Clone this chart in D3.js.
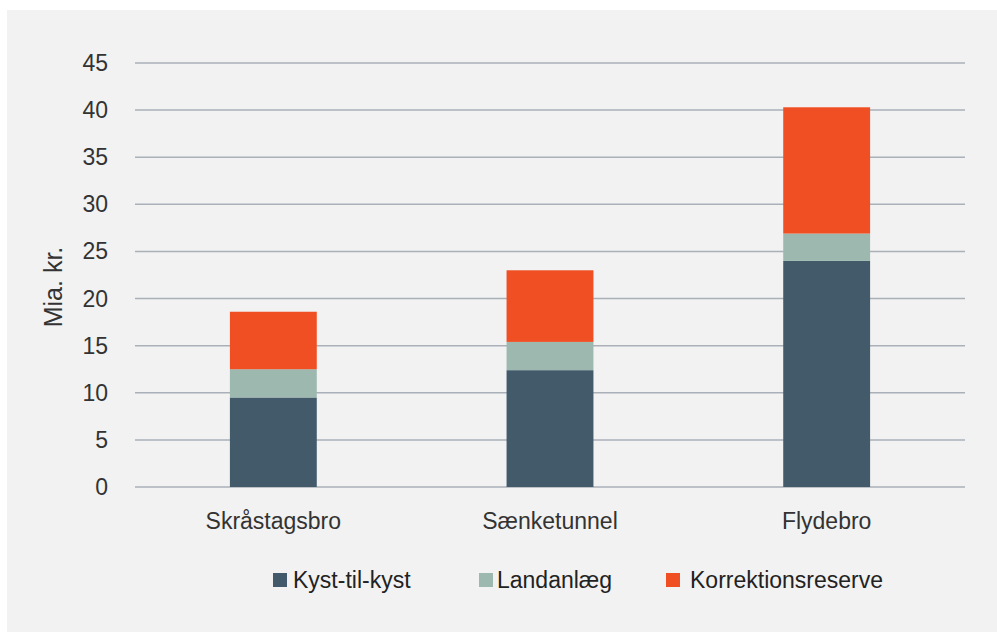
<!DOCTYPE html>
<html>
<head>
<meta charset="utf-8">
<script src="https://cdn.jsdelivr.net/npm/d3@7"></script>
<style>
  body { margin: 0; background: #ffffff; }
  svg { display: block; font-family: "Liberation Sans", Arial, sans-serif; }
</style>
</head>
<body>
<svg id="chart" width="997" height="632"></svg>
<script>
const categories = ["Skråstagsbro", "Sænketunnel", "Flydebro"];
const seriesNames = ["Kyst-til-kyst", "Landanlæg", "Korrektionsreserve"];
const kystTilKyst = [9.5, 12.4, 24.0];
const landanlaeg = [3.0, 3.0, 2.9];
const korrektion = [6.1, 7.6, 13.4];
const yTicks = [0, 5, 10, 15, 20, 25, 30, 35, 40, 45];
const colours = ["#435a6b", "#9db8ae", "#f04e23"];

const rows = categories.map((c, i) => ({
  cat: c,
  "Kyst-til-kyst": kystTilKyst[i],
  "Landanlæg": landanlaeg[i],
  "Korrektionsreserve": korrektion[i]
}));

const svg = d3.select("#chart");

// grey panel
svg.append("rect")
  .attr("x", 7).attr("y", 10)
  .attr("width", 990).attr("height", 622)
  .attr("fill", "#f2f2f2");

const x = d3.scaleBand().domain(categories).range([135, 965]);
const y = d3.scaleLinear().domain([0, 45]).range([487, 63]);
const barW = x.bandwidth() * 0.314;

// gridlines
svg.append("g")
  .selectAll("line")
  .data(yTicks)
  .join("line")
  .attr("x1", 135).attr("x2", 965)
  .attr("y1", d => y(d)).attr("y2", d => y(d))
  .attr("stroke", "#aab0b8")
  .attr("stroke-width", 1.5);

// y tick labels
svg.append("g")
  .selectAll("text")
  .data(yTicks)
  .join("text")
  .attr("x", 108)
  .attr("y", d => y(d))
  .attr("dy", "0.35em")
  .attr("text-anchor", "end")
  .attr("font-size", 23)
  .attr("fill", "#333")
  .text(d => d);

// stacked bars
const stack = d3.stack().keys(seriesNames)(rows);
svg.append("g")
  .selectAll("g")
  .data(stack)
  .join("g")
  .attr("fill", (d, i) => colours[i])
  .selectAll("rect")
  .data(d => d)
  .join("rect")
  .attr("x", d => x(d.data.cat) + x.bandwidth() / 2 - barW / 2)
  .attr("y", d => y(d[1]))
  .attr("width", barW)
  .attr("height", d => y(d[0]) - y(d[1]));

// category labels
svg.append("g")
  .selectAll("text")
  .data(categories)
  .join("text")
  .attr("x", d => x(d) + x.bandwidth() / 2)
  .attr("y", 529)
  .attr("text-anchor", "middle")
  .attr("font-size", 23)
  .attr("fill", "#333")
  .text(d => d);

// y axis title
svg.append("text")
  .attr("transform", "translate(62,287) rotate(-90)")
  .attr("text-anchor", "middle")
  .attr("font-size", 25)
  .attr("fill", "#333")
  .text("Mia. kr.");

// legend
const legendX = [273, 479, 666];
const textX = [293, 497, 690];
const legend = svg.append("g");
seriesNames.forEach((name, i) => {
  legend.append("rect")
    .attr("x", legendX[i]).attr("y", 573)
    .attr("width", 14).attr("height", 14)
    .attr("fill", colours[i]);
  legend.append("text")
    .attr("x", textX[i]).attr("y", 588)
    .attr("font-size", 23)
    .attr("fill", "#222")
    .text(name);
});
</script>
</body>
</html>
